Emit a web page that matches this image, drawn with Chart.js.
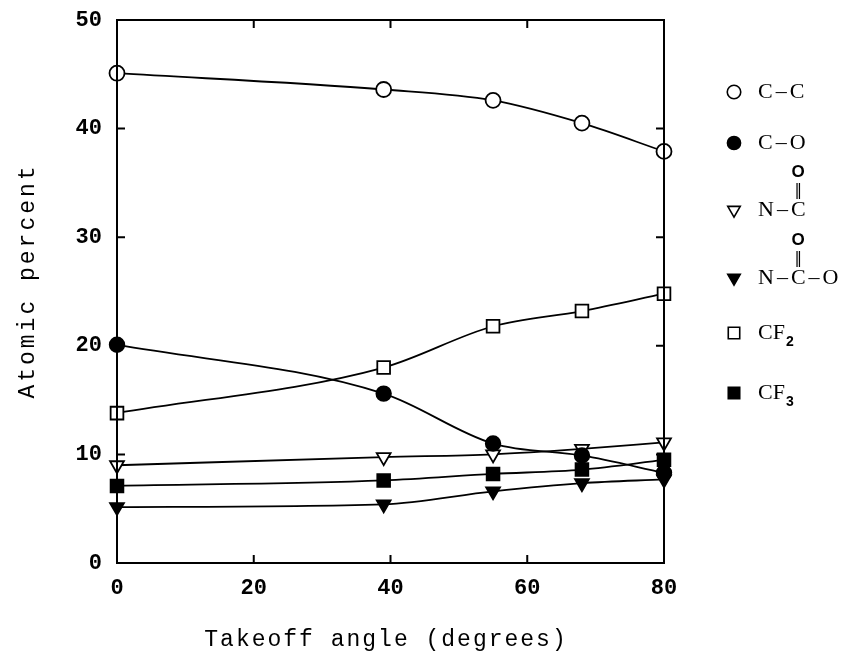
<!DOCTYPE html>
<html>
<head>
<meta charset="utf-8">
<script src="https://cdn.jsdelivr.net/npm/chart.js@4.4.1/dist/chart.umd.min.js"></script>
<style>
  html, body { margin: 0; padding: 0; background: #fff; }
  #wrap { width: 842px; height: 656px; }
</style>
</head>
<body>
<div id="wrap"><canvas id="atomChart" width="842" height="656"></canvas></div>
<script>
// takeoff angle (degrees)
const angles = [0, 39, 55, 68, 80];

// atomic percent per species
const cc    = [45.1, 43.6, 42.6, 40.5, 37.9];
const co    = [20.1, 15.6, 11.0, 9.9, 8.3];
const nco   = [9.0, 9.75, 10.0, 10.5, 11.1];
const ncoo  = [5.15, 5.4, 6.6, 7.35, 7.7];
const cf2   = [13.8, 18.0, 21.8, 23.2, 24.8];
const cf3   = [7.1, 7.6, 8.2, 8.6, 9.5];

const xTicks = [0, 20, 40, 60, 80];
const yTicks = [0, 10, 20, 30, 40, 50];
const xTitle = "Takeoff angle (degrees)";
const yTitle = "Atomic percent";

// legend rows: text, subscript, carbonyl O drawn above the C
const legendRows = [
  { text: "C–C" },
  { text: "C–O" },
  { text: "N–C", carbonyl: true },
  { text: "N–C–O", carbonyl: true },
  { text: "CF", sub: "2" },
  { text: "CF", sub: "3" },
];
const legendY = [92, 143, 210, 278, 333, 393];

function series(data, style, filled, radius, rotation) {
  return {
    data: angles.map((a, i) => ({ x: a, y: data[i] })),
    borderColor: "#000",
    borderWidth: 1.8,
    cubicInterpolationMode: "monotone",
    pointStyle: style,
    pointRadius: radius,
    pointRotation: rotation || 0,
    pointBackgroundColor: filled ? "#000" : "#fff",
    pointBorderColor: "#000",
    pointBorderWidth: 1.8,
    clip: false,
  };
}

const datasets = [
  series(cc, "circle", false, 7.5),
  series(co, "circle", true, 7.3),
  series(nco, "triangle", false, 8, 180),
  series(ncoo, "triangle", true, 8, 180),
  series(cf2, "rect", false, 9),
  series(cf3, "rect", true, 9),
];

function drawFormula(ctx, x, y, row) {
  ctx.font = '22px "Liberation Serif"';
  ctx.textBaseline = "middle";
  ctx.textAlign = "left";
  let cx = x;
  let cPos = null;
  let seenN = false;
  for (const ch of row.text) {
    if (ch === "–") {
      cx += 3;
      ctx.fillText("–", cx, y);
      cx += ctx.measureText("–").width + 3;
    } else {
      if (ch === "N") seenN = true;
      if (ch === "C" && seenN && cPos === null) cPos = cx + ctx.measureText("C").width / 2;
      ctx.fillText(ch, cx, y);
      cx += ctx.measureText(ch).width;
    }
  }
  if (row.sub) {
    ctx.font = 'bold 14px "Liberation Sans"';
    ctx.fillText(row.sub, cx + 1, y + 9);
  }
  if (row.carbonyl && cPos !== null) {
    ctx.textAlign = "center";
    ctx.font = 'bold 17px "Liberation Sans"';
    ctx.fillText("O", cPos, y - 38);
    ctx.font = '15px "DejaVu Sans"';
    ctx.fillText("‖", cPos, y - 19);
  }
}

const framePlugin = {
  id: "frame",
  afterDatasetsDraw(chart) {
    const { ctx, chartArea: a, scales: { x, y } } = chart;
    ctx.save();
    ctx.strokeStyle = "#000";
    ctx.lineWidth = 2;
    ctx.strokeRect(a.left, a.top, a.right - a.left, a.bottom - a.top);
    const t = 8;
    ctx.beginPath();
    xTicks.forEach(v => {
      const px = x.getPixelForValue(v);
      ctx.moveTo(px, a.bottom); ctx.lineTo(px, a.bottom - t);
      ctx.moveTo(px, a.top); ctx.lineTo(px, a.top + t);
    });
    yTicks.forEach(v => {
      const py = y.getPixelForValue(v);
      ctx.moveTo(a.left, py); ctx.lineTo(a.left + t, py);
      ctx.moveTo(a.right, py); ctx.lineTo(a.right - t, py);
    });
    ctx.stroke();

    // axis titles
    ctx.fillStyle = "#000";
    ctx.font = '23px "Liberation Mono"';
    ctx.letterSpacing = "2px";
    ctx.textAlign = "center";
    ctx.textBaseline = "middle";
    ctx.fillText(xTitle, 386, 640);
    ctx.translate(28, 281);
    ctx.rotate(-Math.PI / 2);
    ctx.letterSpacing = "3px";
    ctx.fillText(yTitle, 0, 0);
    ctx.restore();
  },
  afterDraw(chart) {
    const { ctx } = chart;
    ctx.save();
    legendRows.forEach((row, i) => {
      const ds = chart.data.datasets[i];
      ctx.fillStyle = ds.pointBackgroundColor;
      ctx.strokeStyle = "#000";
      ctx.lineWidth = 1.6;
      Chart.helpers.drawPoint(ctx, {
        pointStyle: ds.pointStyle,
        radius: ds.pointRadius * 0.9,
        rotation: ds.pointRotation,
        borderWidth: 1.6,
      }, 734, legendY[i]);
      ctx.fillStyle = "#000";
      drawFormula(ctx, 758, legendY[i], row);
    });
    ctx.restore();
  }
};

const tickFont = { family: "Liberation Mono", size: 22, weight: "bold" };

new Chart(document.getElementById("atomChart"), {
  type: "line",
  data: { datasets: datasets },
  options: {
    responsive: false,
    animation: false,
    events: [],
    layout: { padding: { top: 20, right: 178, left: 0, bottom: 0 } },
    plugins: { legend: { display: false }, tooltip: { enabled: false } },
    scales: {
      x: {
        type: "linear",
        min: 0, max: 80,
        afterFit: s => { s.height = 93; s.paddingLeft = 0; s.paddingRight = 0; },
        afterBuildTicks: s => { s.ticks = xTicks.map(v => ({ value: v })); },
        grid: { display: false, drawTicks: false },
        border: { display: false },
        ticks: { color: "#000", font: tickFont, padding: 12, maxRotation: 0 },
      },
      y: {
        type: "linear",
        min: 0, max: 50,
        afterFit: s => { s.width = 117; s.paddingTop = 0; s.paddingBottom = 0; },
        afterBuildTicks: s => { s.ticks = yTicks.map(v => ({ value: v })); },
        grid: { display: false, drawTicks: false },
        border: { display: false },
        ticks: { color: "#000", font: tickFont, padding: 15 },
      },
    },
  },
  plugins: [framePlugin],
});
</script>
</body>
</html>
